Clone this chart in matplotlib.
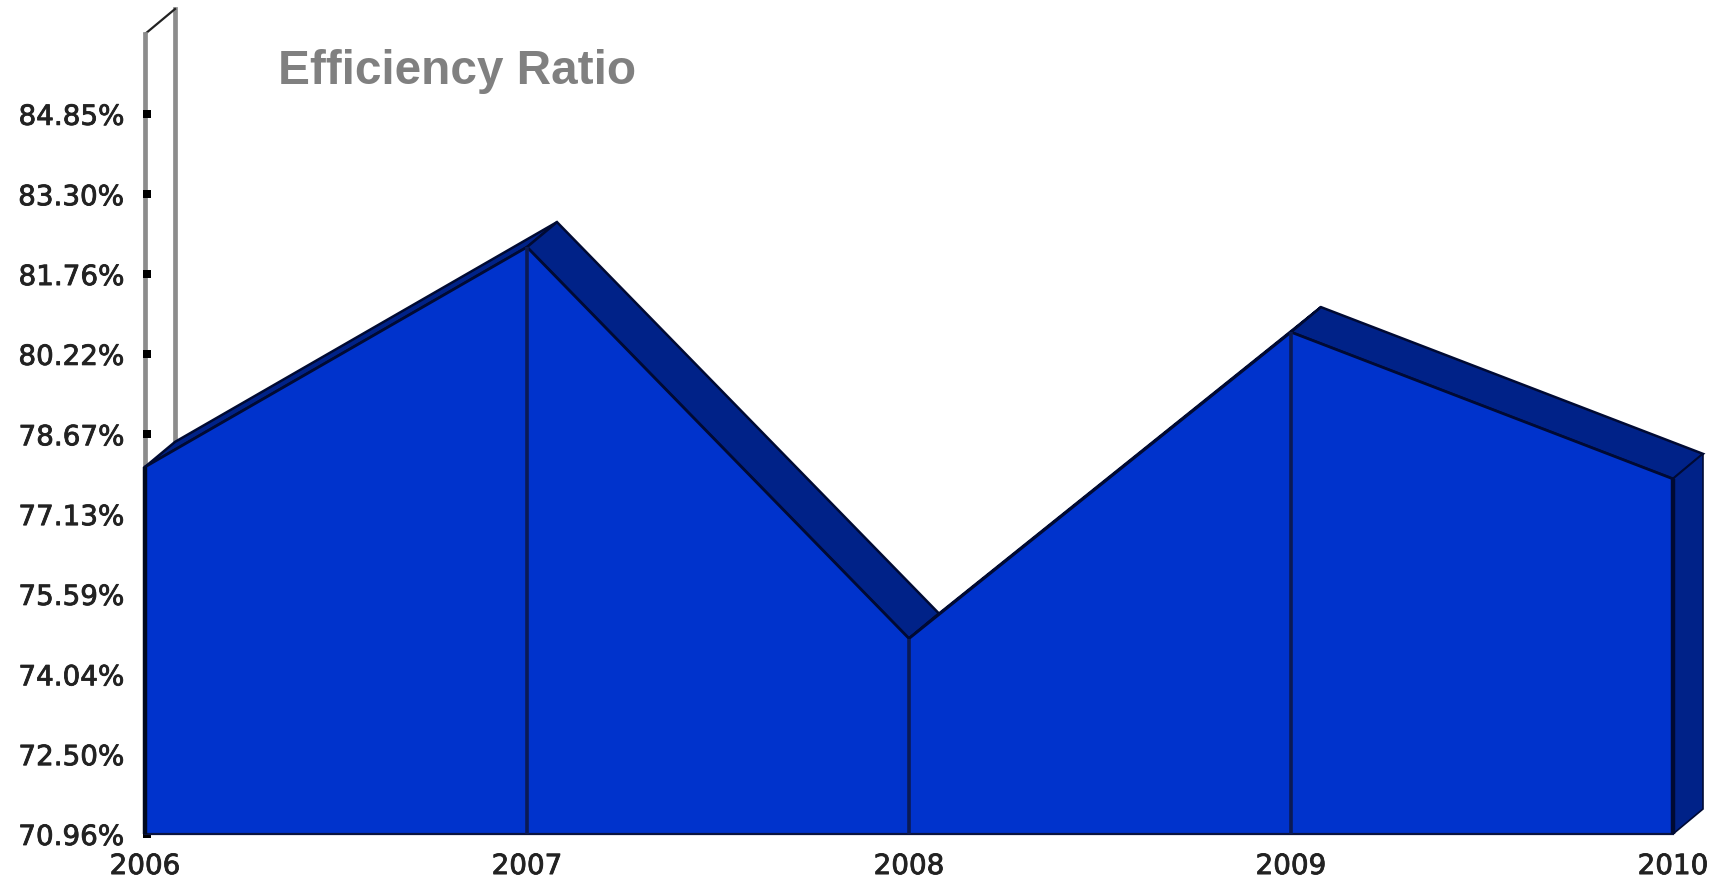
import matplotlib
matplotlib.use('Agg')
import matplotlib.pyplot as plt
import matplotlib.patheffects as pe

years = [2006, 2007, 2008, 2009, 2010]
ratio = [78.04, 82.28, 74.73, 80.64, 77.81]
y_ticks = [70.96, 72.50, 74.04, 75.59, 77.13, 78.67, 80.22, 81.76, 83.30, 84.85]
y_top = 86.39

# 3d look, offset of the back of the area in data units
depth_x = 0.0785
depth_y = 0.482

front_color = '#0033cc'
side_color = '#002288'
wall_color = '#8c8c8c'

fig = plt.figure(figsize=(17.2, 8.86), dpi=100)
ax = fig.add_axes([145 / 1720, 52 / 886, 1528 / 1720, 800 / 886])
ax.set_xlim(years[0], years[-1])
ax.set_ylim(y_ticks[0], y_top)

for name in ['top', 'right', 'bottom']:
    ax.spines[name].set_visible(False)
ax.spines['left'].set_color(wall_color)
ax.spines['left'].set_linewidth(3.4)

# back wall
ax.plot([years[0] + depth_x] * 2, [y_ticks[0] + depth_y, y_top + depth_y], color=wall_color, lw=3.4, clip_on=False)
ax.plot([years[0], years[0] + depth_x], [y_top, y_top + depth_y], color='#222222', lw=1.6, clip_on=False)

# square tick marks sitting on the wall line
ax.plot([years[0] + 0.0052] * len(y_ticks), y_ticks, linestyle='None', marker='s', markersize=5.8,
        color='black', markeredgewidth=0, clip_on=False, zorder=3)

# top faces, one per segment
for i in range(len(years) - 1):
    xs = [years[i], years[i + 1], years[i + 1] + depth_x, years[i] + depth_x]
    ys = [ratio[i], ratio[i + 1], ratio[i + 1] + depth_y, ratio[i] + depth_y]
    ax.fill(xs, ys, facecolor=side_color, edgecolor='#000a33', lw=1.8, clip_on=False, zorder=3)

# right side face
xs = [years[-1], years[-1] + depth_x, years[-1] + depth_x, years[-1]]
ys = [ratio[-1], ratio[-1] + depth_y, y_ticks[0] + depth_y, y_ticks[0]]
ax.fill(xs, ys, facecolor=side_color, edgecolor='#000a33', lw=1.2, clip_on=False, zorder=3)

# front of the area
ax.fill_between(years, ratio, y_ticks[0], facecolor=front_color, edgecolor='none', clip_on=False, zorder=4)
ax.plot(years, ratio, color='#000a33', lw=2.0, clip_on=False, zorder=5)
ax.plot([years[0], years[-1]], [y_ticks[0]] * 2, color='#0a1440', lw=1.6, clip_on=False, zorder=5)
ax.vlines(years[0], y_ticks[0], ratio[0], color='#000a22', lw=3.2, zorder=5, clip_on=False)
ax.vlines(years[1:4], y_ticks[0], ratio[1:4], color='#0a1a55', lw=2.6, zorder=5, clip_on=False)
ax.vlines(years[4], y_ticks[0], ratio[4], color='#000a33', lw=3.2, zorder=5, clip_on=False)

ax.set_yticks(y_ticks)
ax.set_yticklabels(['%.2f%%' % v for v in y_ticks])
ax.set_xticks(years)
ax.set_xticklabels([str(y) for y in years])
ax.tick_params(axis='y', length=0, pad=15, labelsize=20, labelcolor='#222222')
ax.tick_params(axis='x', length=0, pad=13, labelsize=20, labelcolor='#222222')
for label in ax.get_xticklabels() + ax.get_yticklabels():
    label.set_path_effects([pe.withStroke(linewidth=0.6, foreground='#222222')])

fig.text(278 / 1720, 1 - 72 / 886, 'Efficiency Ratio', family='Liberation Sans', fontweight='bold',
         fontsize=34.4, color='#808080', va='center', ha='left')

plt.savefig('out.png', dpi=100)
